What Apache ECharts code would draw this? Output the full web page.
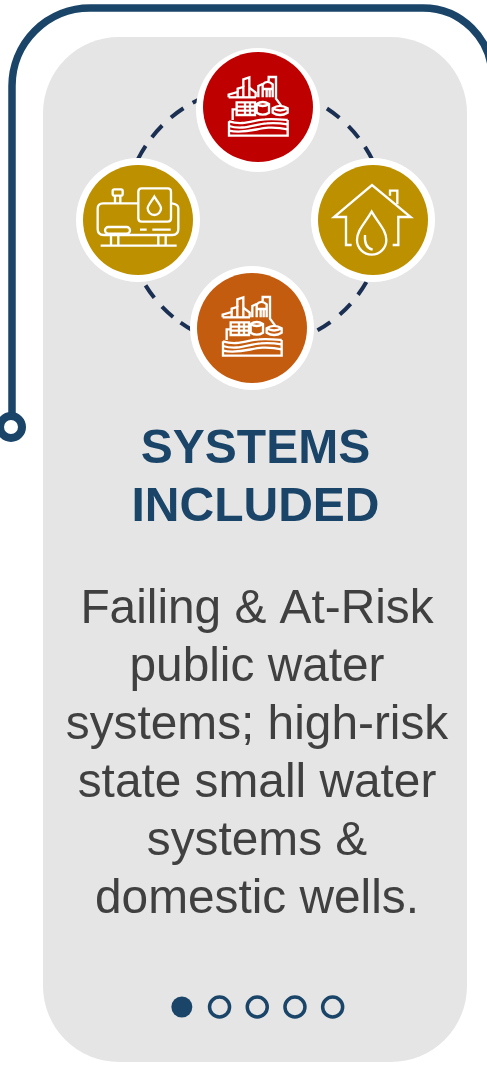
<!DOCTYPE html>
<html>
<head>
<meta charset="utf-8">
<title>Systems Included</title>
<script src="https://cdn.jsdelivr.net/npm/echarts@6/dist/echarts.min.js"></script>
<style>
  html, body { margin: 0; padding: 0; background: #fff; }
  #chart { width: 487px; height: 1088px; }
</style>
</head>
<body>
<div id="chart"></div>
<script>
const titleLines = ["SYSTEMS", "INCLUDED"];
const bodyLines = [
  "Failing & At-Risk",
  "public water",
  "systems; high-risk",
  "state small water",
  "systems &",
  "domestic wells."
];
const pages = ["1", "2", "3", "4", "5"];
const pageActive = [1, 0, 0, 0, 0];
const layers = ["frame", "ring", "topNode", "rightNode", "leftNode", "bottomNode"];
// dash midpoints on the ring, degrees clockwise from east
const dashAnglesUpper = [198, 210, 221.5, 233.5, 245, 295, 306.7, 318.9, 330.5, 342];
const dashAnglesLower = [21, 33.3, 45.3, 57.5, 69, 111, 122, 133, 145, 157];

const NAVY = "#1a4569";
const FONT = '"Liberation Sans", Arial, sans-serif';

// line art, drawn in 3x units and scaled down by the group
const factoryIcon = [
  "M116 172H198",
  "M116 172V164L143 156V172",
  "M143 156V146L160 141V172",
  "M160 141V118L178 112V172",
  "M178 143L197 158V172",
  "M205 172V138L218 132",
  "M218 172V133Q232 118 248 133V172",
  "M218 147H248M230 147V172M239 147V172",
  "M236 124V111H258V176L273 196",
  "M140 187H195V225H140ZM140 200H195M140 212H195M165 187V225M180 187V225",
  "M140 208H128V240",
  "M200 192Q218 180 237 192V218Q218 230 200 218ZM200 192Q218 204 237 192",
  "M248 205Q270 190 293 205V218Q270 232 248 218ZM248 205Q270 218 293 205",
  "M117 244V287H293V240",
  "M117 244C160 258 190 240 225 238C250 236 270 238 293 240",
  "M117 258C160 272 195 252 230 250C255 248 275 250 293 253",
  "M117 272C165 282 200 265 235 263C260 262 280 265 293 268"
];
const tankIcon = [
  "M190 145H84Q68 145 68 161V222Q68 240 86 240H292Q310 240 310 222V160Q310 147 290 145",
  "M200 100H278Q288 100 288 110V190Q288 200 278 200H200Q190 200 190 190V110Q190 100 200 100Z",
  "M120 145V122M136 145V122",
  "M118 103H138Q143 103 143 108V117Q143 122 138 122H118Q113 122 113 117V108Q113 103 118 103Z",
  "M100 216H155A10 10 0 0 1 155 236H100A10 10 0 0 1 100 216Z",
  "M195 224H215M232 224H287",
  "M77 272H305M108 240V272M130 240V272M250 240V272M272 240V272",
  "M238 125C228 142 218 150 218 160A20 20 0 0 0 258 160C258 150 248 142 238 125Z"
];
const houseIcon = [
  "M125 270H108V186H72L186 90L302 186H265V270H248",
  "M240 122V107H262V148",
  "M185 170C165 205 141 225 141 255A44 44 0 0 0 229 255C229 225 205 205 185 170Z",
  "M165 240C163 265 170 280 188 284"
];

function iconGroup(paths, x, y) {
  return {
    type: "group",
    x: x,
    y: y,
    scaleX: 1 / 3,
    scaleY: 1 / 3,
    children: paths.map(d => ({
      type: "path",
      shape: { pathData: d },
      style: { fill: "none", stroke: "#fff", lineWidth: 7 }
    }))
  };
}

function badge(cx, cy, innerCy, color, icon, ix, iy) {
  return {
    type: "group",
    children: [
      { type: "circle", shape: { cx: cx, cy: cy, r: 62 }, style: { fill: "#fff" } },
      { type: "circle", shape: { cx: cx, cy: innerCy, r: 55 }, style: { fill: color } },
      iconGroup(icon, ix, iy)
    ]
  };
}

function dashArc(angle, r) {
  const half = 3.4;
  return {
    type: "arc",
    shape: {
      cx: 255,
      cy: 218,
      r: r,
      startAngle: ((angle - half) * Math.PI) / 180,
      endAngle: ((angle + half) * Math.PI) / 180,
      clockwise: true
    },
    style: { fill: "none", stroke: "#1b2f52", lineWidth: 4 }
  };
}

function renderLayer(params) {
  switch (layers[params.dataIndex]) {
    case "frame":
      return {
        type: "group",
        children: [
          {
            type: "path",
            shape: { pathData: "M12 427V86A78 78 0 0 1 90 8H423A69 69 0 0 1 492 77" },
            style: { fill: "none", stroke: NAVY, lineWidth: 7.5 }
          },
          {
            type: "circle",
            shape: { cx: 11, cy: 427, r: 11 },
            style: { fill: "#fff", stroke: NAVY, lineWidth: 8 }
          }
        ]
      };
    case "ring":
      return {
        type: "group",
        children: dashAnglesUpper.map(a => dashArc(a, 131)).concat(dashAnglesLower.map(a => dashArc(a, 128.5)))
      };
    case "topNode":
      return badge(258, 110, 107, "#be0000", factoryIcon, 190, 40);
    case "rightNode":
      return badge(373, 220, 220, "#bd9000", houseIcon, 310, 155);
    case "leftNode":
      return badge(138, 220, 220, "#bd9000", tankIcon, 75, 155);
    case "bottomNode":
      return badge(252, 328, 328, "#c45c10", factoryIcon, 184, 260);
  }
}

function textEl(text, x, y, font, color) {
  return {
    type: "text",
    style: {
      text: text,
      x: x,
      y: y,
      align: "center",
      verticalAlign: "middle",
      font: font,
      fill: color
    }
  };
}

const elements = [
  // panel
  {
    type: "rect",
    z: -1,
    shape: { x: 43, y: 37, width: 424, height: 1025, r: 76 },
    style: { fill: "#e5e5e5" }
  }
];
titleLines.forEach((t, i) => {
  elements.push(textEl(t, 255.5, 450 + i * 58, "bold 48px " + FONT, NAVY));
});
bodyLines.forEach((t, i) => {
  elements.push(textEl(t, 257, 610 + i * 58, "47.8px " + FONT, "#404040"));
});

const chart = echarts.init(document.getElementById("chart"));
chart.setOption({
  animation: false,
  backgroundColor: "#fff",
  graphic: { elements: elements },
  // pager dots
  grid: { left: 163, top: 987, width: 188.5, height: 40 },
  xAxis: { type: "category", data: pages, show: false },
  yAxis: { type: "value", min: -1, max: 1, show: false },
  series: [
    {
      type: "custom",
      coordinateSystem: "none",
      silent: true,
      data: layers,
      renderItem: renderLayer
    },
    {
      type: "scatter",
      z: 10,
      silent: true,
      data: pages.map((p, i) => ({
        value: [p, 0],
        symbolSize: pageActive[i] ? 21 : 20,
        itemStyle: pageActive[i]
          ? { color: NAVY, opacity: 1 }
          : { color: "rgba(0,0,0,0)", borderColor: NAVY, borderWidth: 3.5, opacity: 1 }
      }))
    }
  ]
});
</script>
</body>
</html>
